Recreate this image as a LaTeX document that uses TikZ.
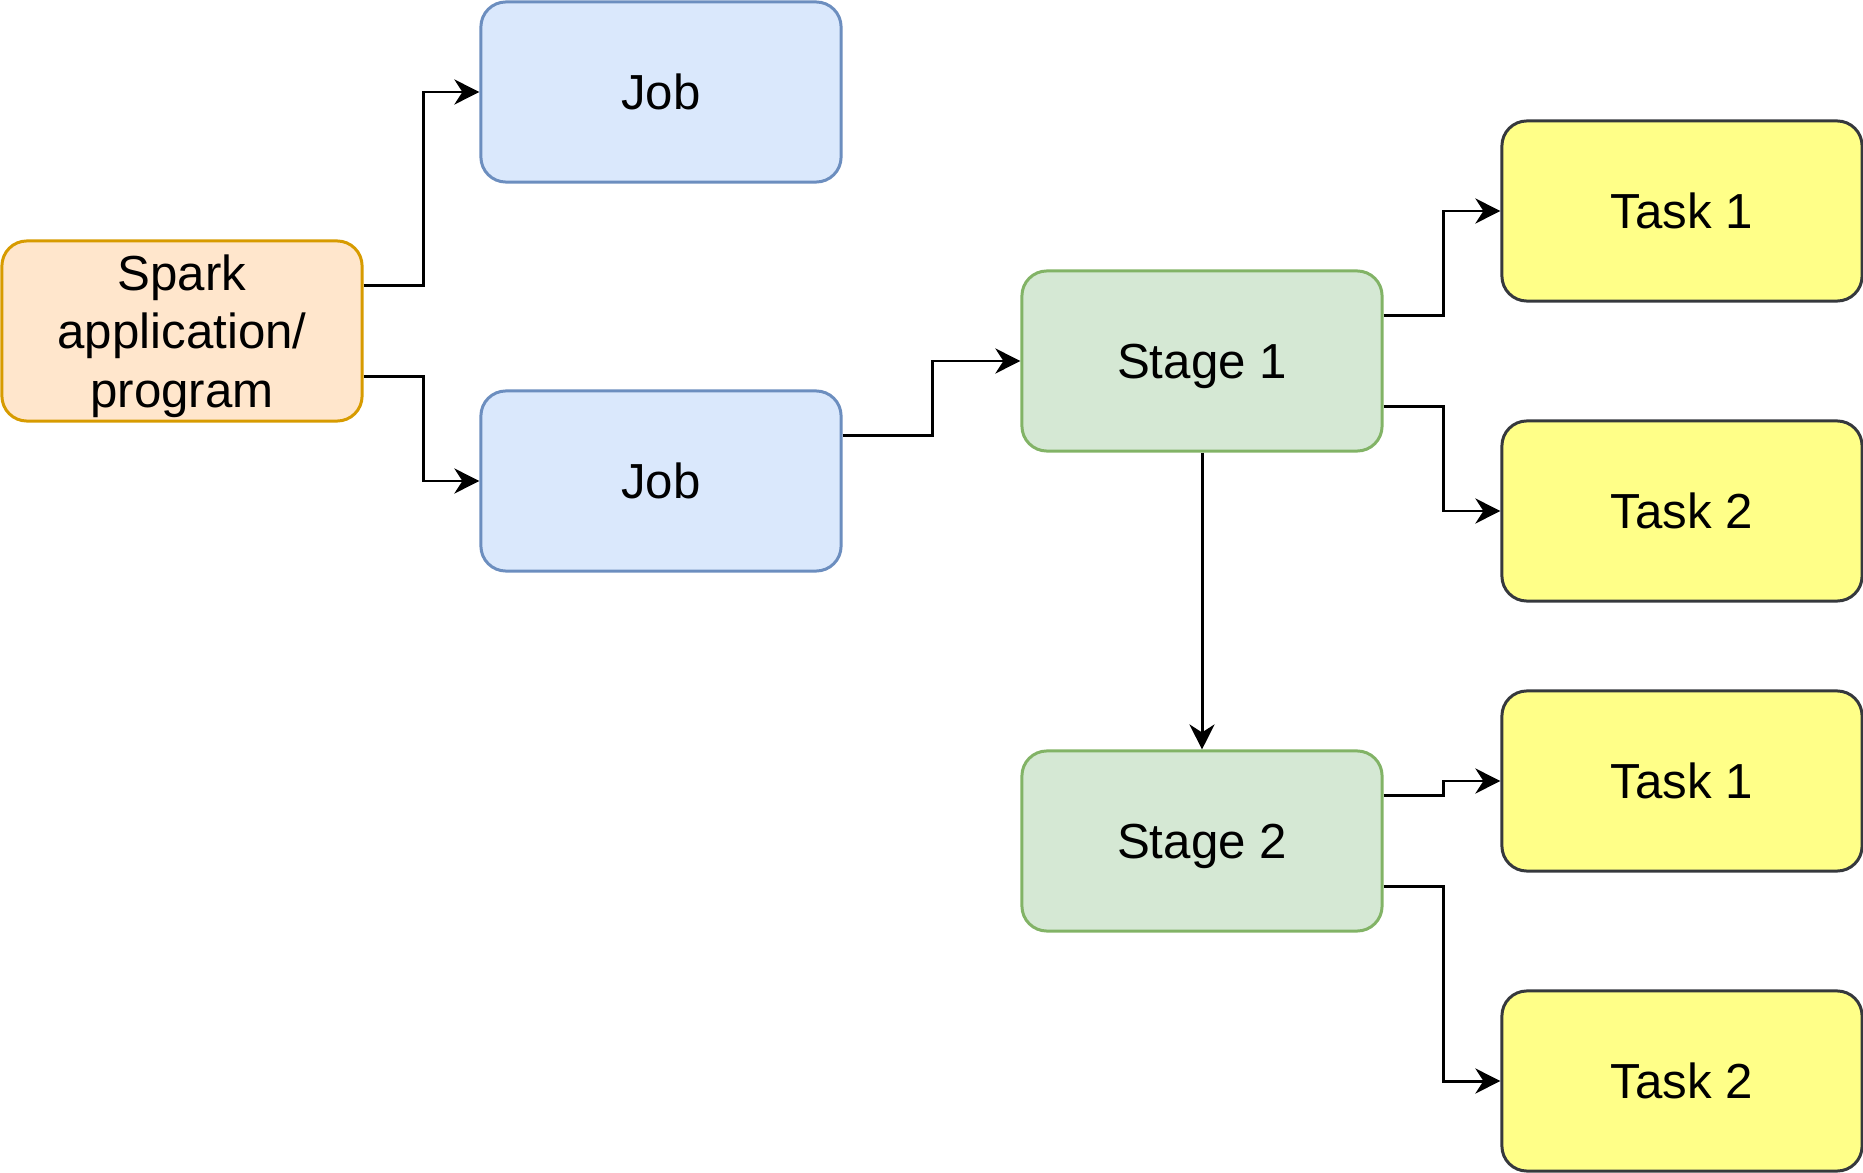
\documentclass[tikz,border=0pt]{standalone}
\usepackage{fontspec}
\setmainfont{Liberation Sans}
\usepackage{xcolor}
\usepackage{tikz}
\usetikzlibrary{arrows.meta,positioning,calc}

\definecolor{appfill}{HTML}{FFE6CC}
\definecolor{appline}{HTML}{D79B00}
\definecolor{jobfill}{HTML}{DAE8FC}
\definecolor{jobline}{HTML}{6C8EBF}
\definecolor{stagefill}{HTML}{D5E8D4}
\definecolor{stageline}{HTML}{82B366}
\definecolor{taskfill}{HTML}{FFFF88}
\definecolor{taskline}{HTML}{36393D}

\begin{document}
\begin{tikzpicture}[x=0.01cm, y=-0.01cm,
    every node/.style={font=\fontsize{14}{16.6}\selectfont},
    box/.style={rectangle, rounded corners=0.25cm, line width=0.85pt,
        minimum width=3.6cm, minimum height=1.8cm, align=center, inner sep=0pt,
        text depth=0pt},
    appbox/.style={box, draw=appline, fill=appfill},
    jobbox/.style={box, draw=jobline, fill=jobfill},
    stagebox/.style={box, draw=stageline, fill=stagefill},
    taskbox/.style={box, draw=taskline, fill=taskfill},
    conn/.style={line width=0.85pt, -{Stealth[length=0.25cm, width=0.25cm, inset=0.08cm]}}]
    \useasboundingbox (0,0) rectangle (1863,1173);

    % Nodes
    \node[appbox] (app) at (182,331) {Spark\\application/\\program};
    \node[jobbox] (job1) at (661,92) {Job};
    \node[jobbox] (job2) at (661,481) {Job};
    \node[stagebox] (stage1) at (1202,361) {Stage 1};
    \node[stagebox] (stage2) at (1202,841) {Stage 2};
    \node[taskbox] (task1a) at (1682,211) {Task 1};
    \node[taskbox] (task2a) at (1682,511) {Task 2};
    \node[taskbox] (task1b) at (1682,781) {Task 1};
    \node[taskbox] (task2b) at (1682,1081) {Task 2};

    % Edges
    \draw[conn] ($(app.north east)!0.25!(app.south east)$) -- ++(60,0) |- (job1.west);
    \draw[conn] ($(app.north east)!0.75!(app.south east)$) -- ++(60,0) |- (job2.west);
    \draw[conn] ($(job2.north east)!0.25!(job2.south east)$) -- ++(90,0) |- (stage1.west);
    \draw[conn] ($(stage1.north east)!0.25!(stage1.south east)$) -- ++(60,0) |- (task1a.west);
    \draw[conn] ($(stage1.north east)!0.75!(stage1.south east)$) -- ++(60,0) |- (task2a.west);
    \draw[conn] (stage1.south) -- (stage2.north);
    \draw[conn] ($(stage2.north east)!0.25!(stage2.south east)$) -- ++(60,0) |- (task1b.west);
    \draw[conn] ($(stage2.north east)!0.75!(stage2.south east)$) -- ++(60,0) |- (task2b.west);
\end{tikzpicture}
\end{document}
